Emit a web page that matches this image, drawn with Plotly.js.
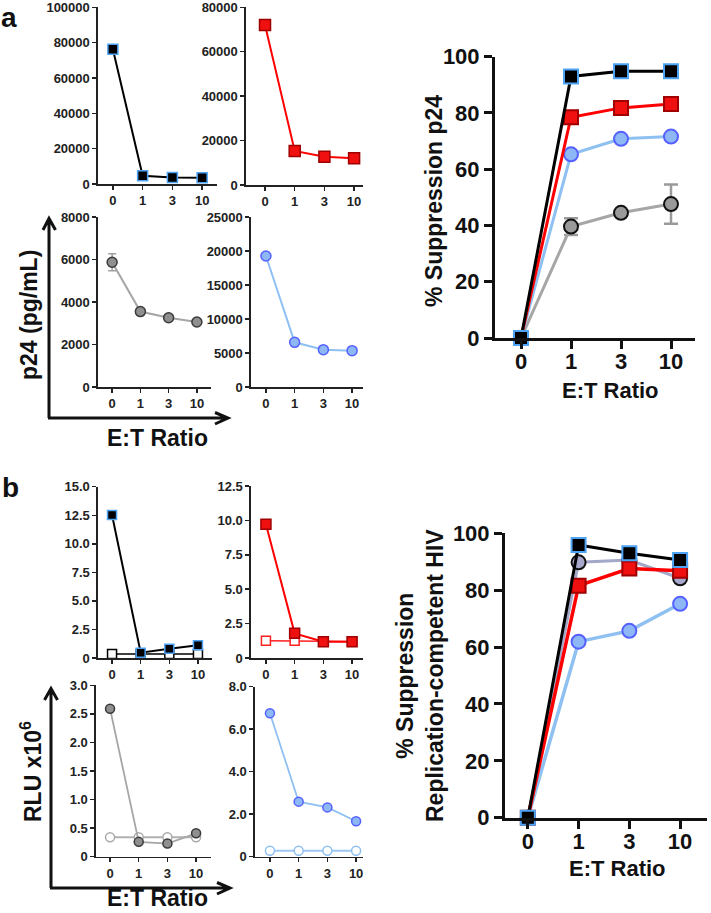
<!DOCTYPE html>
<html>
<head>
<meta charset="utf-8">
<script src="https://cdn.plot.ly/plotly-3.0.1.min.js"></script>
<style>html,body{margin:0;padding:0;background:#fff;}#chart{width:711px;height:913px;}</style>
</head>
<body>
<div id="chart"></div>
<script>
// ---------------- DATA ----------------
const etRatio = ["0", "1", "3", "10"];

// Panel a: p24 (pg/mL) small plots
const aP24Black = [76200, 4700, 3700, 3600];
const aP24Red = [72000, 15300, 12700, 12000];
const aP24RedErr = [2000, 0, 0, 0];
const aP24Grey = [5870, 3550, 3260, 3060];
const aP24GreyErr = [400, 0, 0, 0];
const aP24Blue = [19260, 6570, 5490, 5340];

// Panel a: % suppression p24
const aSupBlack = [0, 93.0, 94.8, 94.8];
const aSupRed = [0, 78.5, 81.8, 83.2];
const aSupBlue = [0, 65.3, 70.8, 71.6];
const aSupGrey = [0, 39.6, 44.5, 47.6];
const aSupGreyErr = [0, 3, 0, 7];

// Panel b: RLU x10^6 small plots (filled = with effectors, open = control)
const bRluBlack = [12.52, 0.46, 0.81, 1.11];
const bRluBlackCtrl = [0.35, 0.35, 0.35, 0.35];
const bRluRed = [9.72, 1.79, 1.19, 1.19];
const bRluRedCtrl = [1.25, 1.25, 1.2, 1.2];
const bRluGrey = [2.59, 0.26, 0.23, 0.41];
const bRluGreyCtrl = [0.34, 0.34, 0.34, 0.34];
const bRluBlue = [6.75, 2.59, 2.32, 1.67];
const bRluBlueCtrl = [0.28, 0.28, 0.28, 0.28];

// Panel b: % suppression replication-competent HIV
const bSupBlack = [0, 95.9, 93.0, 90.6];
const bSupGrey = [0, 89.8, 90.6, 84.2];
const bSupRed = [0, 81.6, 87.6, 86.8];
const bSupBlue = [0, 61.9, 65.7, 75.2];

// Tick labels
const ticksA1 = [0, 20000, 40000, 60000, 80000, 100000];
const ticksA2 = [0, 20000, 40000, 60000, 80000];
const ticksA3 = [0, 2000, 4000, 6000, 8000];
const ticksA4 = [0, 5000, 10000, 15000, 20000, 25000];
const ticksPct = [0, 20, 40, 60, 80, 100];
const ticksB1 = [0, 2.5, 5, 7.5, 10, 12.5, 15];
const ticksB1Text = ["0", "2.5", "5.0", "7.5", "10.0", "12.5", "15.0"];
const ticksB2 = [0, 2.5, 5, 7.5, 10, 12.5];
const ticksB2Text = ["0", "2.5", "5.0", "7.5", "10.0", "12.5"];
const ticksB3 = [0, 0.5, 1, 1.5, 2, 2.5, 3];
const ticksB3Text = ["0", "0.5", "1.0", "1.5", "2.0", "2.5", "3.0"];
const ticksB4 = [0, 2, 4, 6, 8];
const ticksB4Text = ["0", "2.0", "4.0", "6.0", "8.0"];

// ---------------- LAYOUT HELPERS ----------------
const W = 711, H = 913;
const FONT = "Liberation Sans, Arial, Helvetica, sans-serif";
const xd = (l, r) => [l / W, r / W];
const yd = (t, b) => [1 - b / H, 1 - t / H];
const px = v => v / W;
const py = v => 1 - v / H;
const SMALLTICK = 13;

function smallX(dom, rng, yid) {
  return {domain: xd(dom[0], dom[1]), range: rng, type: "category", anchor: yid,
    showline: true, linewidth: 1.6, linecolor: "#222", ticks: "outside", ticklen: 4, tickwidth: 1.5,
    tickcolor: "#222", showgrid: false, zeroline: false, ticklabeloverflow: "allow",
    tickfont: {family: FONT, size: SMALLTICK, weight: "bold", color: "#222"}};
}
function smallY(dom, rng, xid, tv, tt) {
  return {domain: yd(dom[0], dom[1]), range: rng, anchor: xid,
    showline: true, linewidth: 1.6, linecolor: "#222", ticks: "outside", ticklen: 4, tickwidth: 1.5,
    tickcolor: "#222", showgrid: false, zeroline: false, tickmode: "array", tickvals: tv,
    ticklabeloverflow: "allow",
    ticktext: tt || tv.map(String), tickfont: {family: FONT, size: SMALLTICK, weight: "bold", color: "#222"}};
}
function bigX(dom, rng, yid) {
  return {domain: xd(dom[0], dom[1]), range: rng, type: "category", anchor: yid,
    showline: true, linewidth: 3, linecolor: "#111", ticks: "outside", ticklen: 8, tickwidth: 3,
    tickcolor: "#111", showgrid: false, zeroline: false, ticklabelstandoff: -6,
    tickfont: {family: FONT, size: 22, weight: "bold", color: "#111"}};
}
function bigY(dom, rng, xid, tv) {
  return {domain: yd(dom[0], dom[1]), range: rng, anchor: xid,
    showline: true, linewidth: 3, linecolor: "#111", ticks: "outside", ticklen: 8, tickwidth: 3,
    tickcolor: "#111", showgrid: false, zeroline: false, tickmode: "array", tickvals: tv,
    ticklabeloverflow: "allow",
    tickfont: {family: FONT, size: 22, weight: "bold", color: "#111"}};
}

// styles
const S = {
  blackSq: {line: "#000", fill: "#000", edge: "#4da3f5", sym: "square"},
  redSq: {line: "#ff0000", fill: "#f01010", edge: "#a00000", sym: "square"},
  greyCi: {line: "#a6a6a6", fill: "#8f8f8f", edge: "#3a3a3a", sym: "circle"},
  blueCi: {line: "#8fc0f2", fill: "#8db8f5", edge: "#5560ff", sym: "circle"},
  bigGreyCi: {line: "#a6a6a6", fill: "#9a9a9a", edge: "#111", sym: "circle"},
  bGreyCi: {line: "#a3a8c8", fill: "#a8a8cc", edge: "#111", sym: "circle"},
  openBlack: {line: "#000", fill: "#fff", edge: "#000", sym: "square"},
  openRed: {line: "#ff2020", fill: "#fff", edge: "#ff2020", sym: "square"},
  openGrey: {line: "#b0b0b0", fill: "#fff", edge: "#aaaaaa", sym: "circle"},
  openBlue: {line: "#9cc8f4", fill: "#fff", edge: "#8fc0f2", sym: "circle"}
};

function tr(n, y, st, size, lw, mlw, err, errColor, big) {
  const t = {
    type: "scatter", mode: "lines+markers", x: etRatio, y: y,
    xaxis: "x" + (n === 1 ? "" : n), yaxis: "y" + (n === 1 ? "" : n),
    line: {color: st.line, width: lw},
    marker: {symbol: st.sym, size: size, color: st.fill, line: {color: st.edge, width: mlw}},
    cliponaxis: false, hoverinfo: "skip", showlegend: false
  };
  if (err) {
    t.error_y = {type: "data", array: err, visible: true, color: errColor,
      thickness: big ? 2.5 : 1.5, width: big ? 7 : 4};
  }
  return t;
}

const data = [
  // a small
  tr(1, aP24Black, S.blackSq, 10, 2, 1.5),
  tr(2, aP24Red, S.redSq, 11, 2, 1.5, aP24RedErr, "#b00000"),
  tr(3, aP24Grey, S.greyCi, 10, 2, 1.5, aP24GreyErr, "#a0a0a0"),
  tr(4, aP24Blue, S.blueCi, 10, 2, 1.5),
  // a big
  tr(5, aSupGrey, S.bigGreyCi, 14, 3, 2, aSupGreyErr, "#9a9a9a", true),
  tr(5, aSupBlue, S.blueCi, 14, 3, 2),
  tr(5, aSupRed, S.redSq, 14, 3, 2),
  tr(5, aSupBlack, S.blackSq, 14, 3, 2),
  // b small
  tr(6, bRluBlackCtrl, S.openBlack, 9, 1.5, 1.5),
  tr(6, bRluBlack, S.blackSq, 9, 2, 1.5),
  tr(7, bRluRedCtrl, S.openRed, 9, 1.5, 1.5),
  tr(7, bRluRed, S.redSq, 10, 2, 1.5),
  tr(8, bRluGreyCtrl, S.openGrey, 9, 1.8, 1.5),
  tr(8, bRluGrey, S.greyCi, 9, 1.8, 1.5),
  tr(9, bRluBlueCtrl, S.openBlue, 9, 1.8, 1.5),
  tr(9, bRluBlue, S.blueCi, 9, 1.8, 1.5),
  // b big
  tr(10, bSupBlue, S.blueCi, 14, 3.5, 2),
  tr(10, bSupGrey, S.bGreyCi, 14, 3, 2),
  tr(10, bSupRed, S.redSq, 14, 3.5, 2),
  tr(10, bSupBlack, S.blackSq, 14, 3, 2)
];

function ann(text, x, y, size, angle, yanchor) {
  return {text: text, x: px(x), y: py(y), xref: "paper", yref: "paper", showarrow: false,
    xanchor: "center", yanchor: yanchor || "middle", textangle: angle || 0,
    font: {family: FONT, size: size, color: "#111"}};
}

const layout = {
  width: W, height: H, margin: {l: 0, r: 0, t: 0, b: 0},
  paper_bgcolor: "#fff", plot_bgcolor: "rgba(0,0,0,0)", showlegend: false,
  font: {family: FONT, color: "#111"},
  xaxis: smallX([98, 217], [-0.5, 3.5], "y"),
  yaxis: smallY([7.3, 184], [0, 100000], "x", ticksA1),
  xaxis2: smallX([246, 363], [-0.64, 3.3], "y2"),
  yaxis2: smallY([7.3, 185], [0, 80000], "x2", ticksA2),
  xaxis3: smallX([98, 211], [-0.5, 3.5], "y3"),
  yaxis3: smallY([217, 387], [0, 8000], "x3", ticksA3),
  xaxis4: smallX([251, 363], [-0.52, 3.38], "y4"),
  yaxis4: smallY([217, 387], [0, 25000], "x4", ticksA4),
  xaxis5: bigX([495, 695], [-0.52, 3.48], "y5"),
  yaxis5: bigY([56.7, 338], [0, 100], "x5", ticksPct),
  xaxis6: smallX([98, 212], [-0.49, 3.49], "y6"),
  yaxis6: smallY([486.7, 658], [0, 15], "x6", ticksB1, ticksB1Text),
  xaxis7: smallX([251, 363], [-0.52, 3.38], "y7"),
  yaxis7: smallY([486, 658], [0, 12.5], "x7", ticksB2, ticksB2Text),
  xaxis8: smallX([96, 211], [-0.49, 3.52], "y8"),
  yaxis8: smallY([685.3, 856.7], [0, 3], "x8", ticksB3, ticksB3Text),
  xaxis9: smallX([255, 363], [-0.52, 3.24], "y9"),
  yaxis9: smallY([686.7, 856.7], [0, 8], "x9", ticksB4, ticksB4Text),
  xaxis10: bigX([505, 707], [-0.45, 3.53], "y10"),
  yaxis10: bigY([533.3, 817.7], [0, 100], "x10", ticksPct),
  shapes: [
    // panel a arrows
    {type: "path", xref: "paper", yref: "paper", line: {color: "#111", width: 3},
      path: `M ${px(49)},${py(418)} L ${px(49)},${py(219)} M ${px(43)},${py(230)} L ${px(49)},${py(218.5)} L ${px(55.5)},${py(230)}`},
    {type: "path", xref: "paper", yref: "paper", line: {color: "#111", width: 3},
      path: `M ${px(48)},${py(418)} L ${px(227)},${py(418)} M ${px(215)},${py(412.5)} L ${px(228)},${py(418)} L ${px(215)},${py(424)}`},
    // panel b arrows
    {type: "path", xref: "paper", yref: "paper", line: {color: "#111", width: 3},
      path: `M ${px(51)},${py(888)} L ${px(51)},${py(689)} M ${px(44.5)},${py(700)} L ${px(51)},${py(688.5)} L ${px(57.5)},${py(700)}`},
    {type: "path", xref: "paper", yref: "paper", line: {color: "#111", width: 3},
      path: `M ${px(50)},${py(888)} L ${px(229)},${py(888)} M ${px(217)},${py(882.5)} L ${px(230)},${py(888)} L ${px(217)},${py(894)}`}
  ],
  annotations: [
    ann("<b>a</b>", 9, 0, 28, 0, "top"),
    ann("<b>b</b>", 10, 488, 28),
    ann("<b>p24 (pg/mL)</b>", 29, 315, 23, -90),
    ann("<b>E:T Ratio</b>", 157, 438, 23),
    ann("<b>RLU x10<sup>6</sup></b>", 31, 772, 23, -90),
    ann("<b>E:T Ratio</b>", 157, 913, 23, 0, "bottom"),
    ann("<b>% Suppression p24</b>", 434, 201, 23, -90),
    ann("<b>E:T Ratio</b>", 610, 390, 22),
    ann("<b>% Suppression<br>Replication-competent HIV</b>", 420, 676, 23, -90),
    ann("<b>E:T Ratio</b>", 617, 868, 22)
  ]
};

Plotly.newPlot("chart", data, layout, {staticPlot: true, displayModeBar: false});
</script>
</body>
</html>
